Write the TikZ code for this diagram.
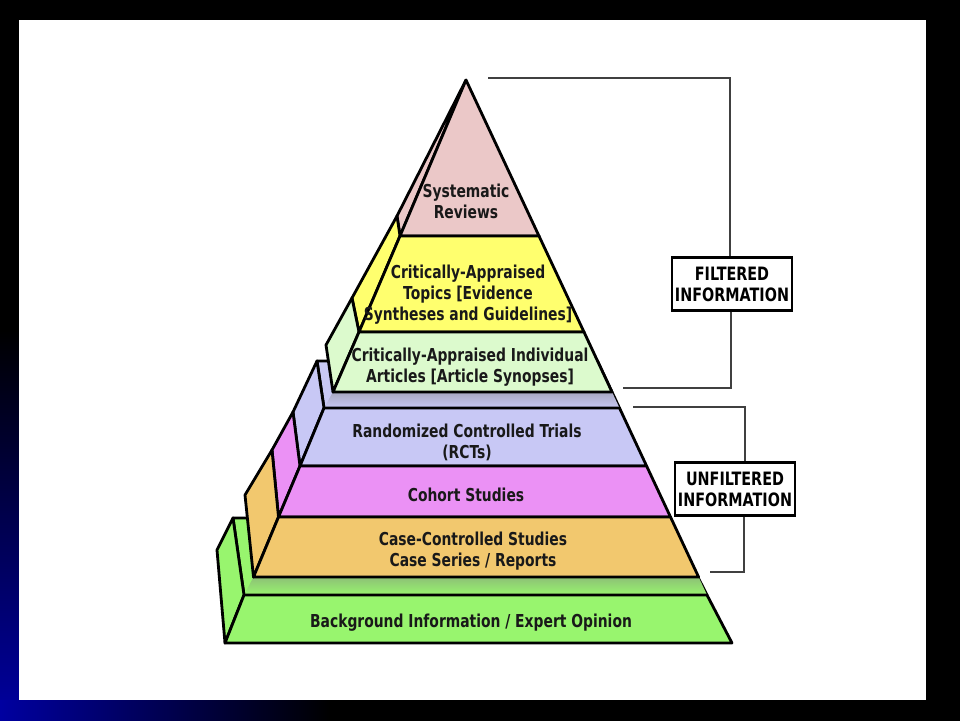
\documentclass[tikz,border=0pt]{standalone}
\usepackage{fontspec}
\newfontfamily\pyrfont{DejaVu Sans}[FakeStretch=0.78]
\definecolor{slideblue}{RGB}{0,0,160}
\definecolor{rose}{RGB}{235,200,200}
\definecolor{lemon}{RGB}{255,255,110}
\definecolor{mint}{RGB}{220,250,205}
\definecolor{lav}{RGB}{200,200,245}
\definecolor{orchid}{RGB}{235,145,245}
\definecolor{sand}{RGB}{242,200,110}
\definecolor{lime}{RGB}{152,245,110}
\tikzset{
  face/.style={draw=black, line width=2.8pt, line join=round},
  lbl/.style={align=center, text=black!90, font=\pyrfont\bfseries\fontsize{17.8}{21}\selectfont},
  tag/.style={draw=black, line width=2.2pt, fill=white, inner sep=2pt, align=center, minimum width=120pt, minimum height=53pt, font=\pyrfont\bfseries\fontsize{18.4}{21}\selectfont},
  brace/.style={draw=black!75, line width=1.4pt}
}
\begin{document}
\begin{tikzpicture}[x=1pt,y=-1pt]
  \useasboundingbox (0,0) rectangle (960,720);
  \fill[black] (-2,-2) rectangle (962,722);
  \shade[top color=black, bottom color=slideblue] (-2,330) rectangle (19,722);
  \shade[left color=slideblue, right color=black] (0,700) rectangle (330,722);
  \fill[white] (19,20) rectangle (926,700);

  \begin{scope}[face]
    \filldraw[fill=lime] (233,518) -- (668,518) -- (707,595) -- (244,595) -- cycle;
    \shade[top color=lime!55!gray, bottom color=lime] (253.5,577) -- (698.6,577) -- (707,595) -- (244,595) -- cycle;
    \filldraw[fill=lime] (233,518) -- (244,595) -- (225,643) -- (217,550) -- cycle;
    \filldraw[fill=lime] (244,595) -- (707,595) -- (732,643) -- (225,643) -- cycle;

    \filldraw[fill=lav] (317,361) -- (597.5,361) -- (619.5,408) -- (324,408) -- cycle;
    \shade[top color=lav!55!gray, bottom color=lav] (333,392) -- (612,392) -- (619.5,408) -- (324,408) -- cycle;
    \filldraw[fill=lav] (317,361) -- (324,408) -- (300,466) -- (293,412) -- cycle;
    \filldraw[fill=orchid] (293,412) -- (300,466) -- (278.5,517) -- (272,450) -- cycle;
    \filldraw[fill=sand] (272,450) -- (278.5,517) -- (253.5,577) -- (245,495) -- cycle;
    \filldraw[fill=lav] (324,408) -- (619.5,408) -- (646.6,466) -- (300,466) -- cycle;
    \filldraw[fill=orchid] (300,466) -- (646.6,466) -- (670.5,517) -- (278.5,517) -- cycle;
    \filldraw[fill=sand] (278.5,517) -- (670.5,517) -- (698.6,577) -- (253.5,577) -- cycle;

    \filldraw[fill=rose] (466,80) -- (397,216) -- (400,236) -- cycle;
    \filldraw[fill=lemon] (397,216) -- (400,236) -- (359,332) -- (352,298) -- cycle;
    \filldraw[fill=mint] (352,298) -- (359,332) -- (333,392) -- (326,345) -- cycle;
    \filldraw[fill=rose] (466,80) -- (539,236) -- (400,236) -- cycle;
    \filldraw[fill=lemon] (400,236) -- (539,236) -- (584,332) -- (359,332) -- cycle;
    \filldraw[fill=mint] (359,332) -- (584,332) -- (612,392) -- (333,392) -- cycle;
  \end{scope}

  \node[lbl] (sr) at (466,201) {Systematic\\Reviews};
  \node[lbl] (cat) at (468,295) {Critically-Appraised\\Topics [Evidence\\Syntheses and Guidelines]};
  \node[lbl] (cai) at (470,367.5) {Critically-Appraised Individual\\Articles [Article Synopses]};
  \node[lbl] (rct) at (467,442.5) {Randomized Controlled Trials\\(RCTs)};
  \node[lbl] (coh) at (466,495) {Cohort Studies};
  \node[lbl] (ccs) at (473,551.5) {Case-Controlled Studies\\Case Series / Reports};
  \node[lbl] (bg) at (471,623) {Background Information / Expert Opinion};

  \node[tag] (fil) at (732,284) {FILTERED\\INFORMATION};
  \node[tag] (unf) at (735,489) {UNFILTERED\\INFORMATION};
  \coordinate (ftop) at (488,78);
  \coordinate (fbot) at (623,388);
  \coordinate (utop) at (633,407);
  \coordinate (ubot) at (710,572);

  \begin{scope}[brace]
    \draw (ftop) -| ([xshift=-2pt]fil.north);
    \draw ([xshift=-1pt]fil.south) |- (fbot);
    \draw (utop) -| ([xshift=10pt]unf.north);
    \draw ([xshift=9pt]unf.south) |- (ubot);
  \end{scope}
\end{tikzpicture}
\end{document}
